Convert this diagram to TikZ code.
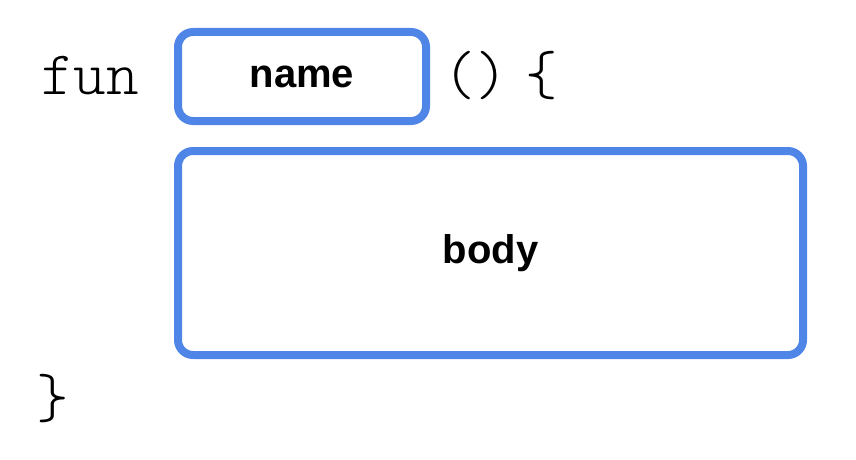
\documentclass[tikz,border=0pt]{standalone}
\usepackage{fontspec}
\usepackage{xcolor}
\usepackage{tikz}
\setmainfont{Liberation Sans}
\setmonofont{Latin Modern Mono Light}
\definecolor{boxblue}{RGB}{80,133,232}

\begin{document}
\begin{tikzpicture}[x=1pt, y=-1pt,
    code/.style={font=\ttfamily\fontsize{62}{66}\selectfont, inner sep=0pt},
    slot/.style={draw=boxblue, line width=8pt, rounded corners=15pt, font=\bfseries\fontsize{40}{48}\selectfont, inner sep=0pt}]
      \useasboundingbox[fill=white] (0,0) rectangle (856,460);
      \node[code, anchor=base] (fun) at (90,94) {fun};
      \node[slot, minimum width=248pt, minimum height=89pt] (name) at (302,76.5) {name};
      \node[code, anchor=base west] (paren) at (443,94) {()\hspace{17pt}\{};
      \node[slot, minimum width=625pt, minimum height=204pt] (body) at (490.5,253) {body};
      \node[code, anchor=base] (close) at (53,417) {\}};
    \end{tikzpicture}
\end{document}
